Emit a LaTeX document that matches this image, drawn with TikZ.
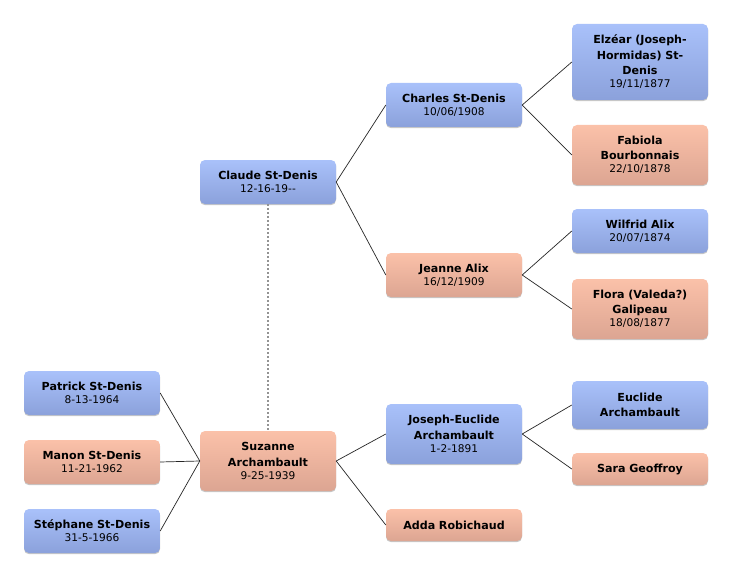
\documentclass[tikz,border=0pt]{standalone}
\usepackage{fontspec}
\setmainfont{DejaVu Sans}
\usetikzlibrary{shadows}

\definecolor{bleuHaut}{HTML}{A9C1FA}
\definecolor{bleuBas}{HTML}{8BA1DB}
\definecolor{roseHaut}{HTML}{FBC1A9}
\definecolor{roseBas}{HTML}{DCA592}

\tikzset{
  personne/.style={rounded corners=5pt, minimum width=136pt, text width=134pt,
    align=center, inner sep=0pt, font=\fontsize{11.1}{15.5}\selectfont\bfseries,
    drop shadow={shadow xshift=0pt, shadow yshift=-1.2pt, opacity=0.22, fill=black}},
  homme/.style={personne, top color=bleuHaut, bottom color=bleuBas},
  femme/.style={personne, top color=roseHaut, bottom color=roseBas},
  lien/.style={black!85, line width=0.7pt},
  mariage/.style={gray!85, line width=1.6pt, dash pattern=on 2pt off 2pt},
}
\newcommand{\naiss}[1]{\\[-2.5pt]{\fontsize{10.6}{12}\selectfont\mdseries #1}}

\begin{document}
\begin{tikzpicture}[x=1pt, y=-1pt]
    \useasboundingbox[fill=white] (0,0) rectangle (732,578);

    % Enfants
    \node[homme, minimum height=44pt] (patrick) at (92,393) {Patrick St-Denis\naiss{8-13-1964}};
    \node[femme, minimum height=44pt] (manon) at (92,462) {Manon St-Denis\naiss{11-21-1962}};
    \node[homme, minimum height=44pt] (stephane) at (92,531) {Stéphane St-Denis\naiss{31-5-1966}};

    % Parents
    \node[femme, minimum height=60pt] (suzanne) at (268,461) {Suzanne\\Archambault\naiss{9-25-1939}};
    \node[homme, minimum height=44pt] (claude) at (268,182) {Claude St-Denis\naiss{12-16-19-{}-}};

    % Grands-parents
    \node[homme, minimum height=44pt] (charles) at (454,105) {Charles St-Denis\naiss{10/06/1908}};
    \node[femme, minimum height=44pt] (jeanne) at (454,275) {Jeanne Alix\naiss{16/12/1909}};
    \node[homme, minimum height=60pt] (joseph) at (454,434) {Joseph-Euclide\\Archambault\naiss{1-2-1891}};
    \node[femme, minimum height=32pt] (adda) at (454,525) {Adda Robichaud};

    % Arrière-grands-parents
    \node[homme, minimum height=76pt] (elzear) at (640,62) {Elzéar (Joseph-\\Hormidas) St-\\Denis\naiss{19/11/1877}};
    \node[femme, minimum height=60pt] (fabiola) at (640,155) {Fabiola\\Bourbonnais\naiss{22/10/1878}};
    \node[homme, minimum height=44pt] (wilfrid) at (640,231) {Wilfrid Alix\naiss{20/07/1874}};
    \node[femme, minimum height=60pt] (flora) at (640,309) {Flora (Valeda?)\\Galipeau\naiss{18/08/1877}};
    \node[homme, minimum height=48pt] (euclide) at (640,405) {Euclide\\Archambault};
    \node[femme, minimum height=32pt] (sara) at (640,469) {Sara Geoffroy};

    % Liens
    \draw[mariage] (claude.south) -- (suzanne.north);
    \foreach \e in {patrick, manon, stephane}
        \draw[lien] (\e.east) -- (suzanne.west);
    \draw[lien] (suzanne.east) -- (joseph.west);
    \draw[lien] (suzanne.east) -- (adda.west);
    \draw[lien] (claude.east) -- (charles.west);
    \draw[lien] (claude.east) -- (jeanne.west);
    \draw[lien] (charles.east) -- (elzear.west);
    \draw[lien] (charles.east) -- (fabiola.west);
    \draw[lien] (jeanne.east) -- (wilfrid.west);
    \draw[lien] (jeanne.east) -- (flora.west);
    \draw[lien] (joseph.east) -- (euclide.west);
    \draw[lien] (joseph.east) -- (sara.west);
\end{tikzpicture}
\end{document}
